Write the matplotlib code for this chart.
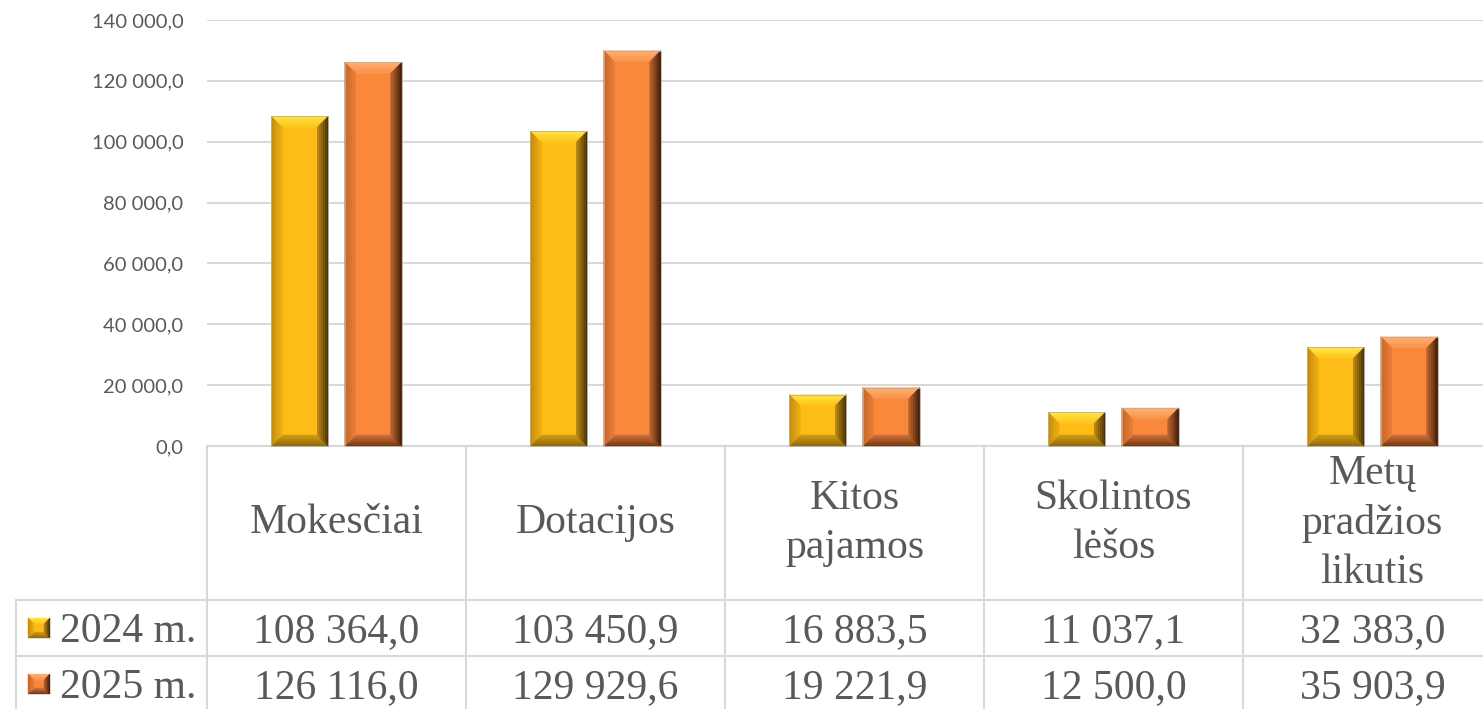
import numpy as np
import matplotlib
matplotlib.use('Agg')
from matplotlib import pyplot as plt
from matplotlib.patches import Polygon
from matplotlib.colors import to_rgb
from matplotlib.transforms import blended_transform_factory

categories = ['Mokesčiai', 'Dotacijos', 'Kitos\npajamos', 'Skolintos\nlėšos', 'Metų\npradžios\nlikutis']
series_names = ['2024 m.', '2025 m.']
values_2024 = [108364.0, 103450.9, 16883.5, 11037.1, 32383.0]
values_2025 = [126116.0, 129929.6, 19221.9, 12500.0, 35903.9]
y_ticks = [0, 20000, 40000, 60000, 80000, 100000, 120000, 140000]

# face colour, then (outer, inner) colour for top, bottom, left, right bevels
bar_colors = {
    '2024 m.': ['#fdbd16',
                [('#ffe84a', '#fdc419'), ('#8a6408', '#d49c12'),
                 ('#c08a10', '#eeae14'), ('#3e2a02', '#c08a10')]],
    '2025 m.': ['#f9883a',
                [('#ffb27a', '#fa9448'), ('#6e3410', '#d0703a'),
                 ('#c0642a', '#ec7e38'), ('#3a1806', '#b8642e')]],
}
grid_color = '#d9d9d9'
text_color = '#595959'

W, H = 1483, 709


def fmt(v):
    s = '{:,.1f}'.format(v)
    return s.replace(',', ' ').replace('.', ',')


def bevel(fig, x0, y0, x1, y1, colors, b, lw=0.6):
    # pixel box -> bevelled box drawn in figure coords
    b = min(b, (x1 - x0) / 2.5, (y1 - y0) / 2.5)
    fig.patches.append(Polygon(np.array([(x0, y0), (x0, y1), (x1, y1), (x1, y0)]) / [W, H],
                               closed=True, facecolor=colors[0], edgecolor='none',
                               transform=fig.transFigure, zorder=4))
    outer = np.array([(x0, y1), (x1, y1), (x1, y0), (x0, y0)], dtype=float)
    inner = np.array([(x0 + b, y1 - b), (x1 - b, y1 - b), (x1 - b, y0 + b), (x0 + b, y0 + b)])
    sides = [(0, 1), (3, 2), (3, 0), (1, 2)]  # top, bottom, left, right
    n = 6
    for (i, j), (c_out, c_in) in zip(sides, colors[1]):
        co, ci = np.array(to_rgb(c_out)), np.array(to_rgb(c_in))
        for k in range(n):
            t0, t1 = k / n, (k + 1) / n
            a0 = outer[[i, j]] + (inner[[i, j]] - outer[[i, j]]) * t0
            a1 = outer[[i, j]] + (inner[[i, j]] - outer[[i, j]]) * t1
            pts = np.array([a0[0], a0[1], a1[1], a1[0]])
            c = co + (ci - co) * (k + 0.5) / n
            fig.patches.append(Polygon(pts / [W, H], closed=True, facecolor=c, edgecolor=c,
                                       lw=0.3, transform=fig.transFigure, zorder=4))
    if lw:
        fig.patches.append(Polygon(outer / [W, H], closed=True, facecolor='none',
                                   edgecolor='#b8b0a0', lw=lw, transform=fig.transFigure, zorder=5))


fig = plt.figure(figsize=(W / 100, H / 100), dpi=100)
ax_left, ax_bottom = 207 / W, 1 - 446 / H
ax_w, ax_h = 5 * 259 / W, (446 - 20) / H
ax = fig.add_axes([ax_left, ax_bottom, ax_w, ax_h])

x = np.arange(len(categories))
width = 0.22
offset = 0.142
bars1 = ax.bar(x - offset, values_2024, width, color=bar_colors['2024 m.'][0], zorder=3)
bars2 = ax.bar(x + offset, values_2025, width, color=bar_colors['2025 m.'][0], zorder=3)

ax.set_xlim(-0.5, len(categories) - 0.5)
ax.set_ylim(0, 140000)
ax.set_yticks(y_ticks)
ax.set_yticklabels([fmt(v) for v in y_ticks], fontfamily='Lato', fontsize=14.5, color=text_color)
ax.tick_params(axis='y', length=0, pad=17)
ax.set_xticks([])
ax.grid(axis='y', color=grid_color, lw=1.5, zorder=0)
for s in ax.spines.values():
    s.set_visible(False)

for bars, name in [(bars1, '2024 m.'), (bars2, '2025 m.')]:
    for r in bars:
        (px0, py0), (px1, py1) = ax.transData.transform(
            [(r.get_x(), r.get_y()), (r.get_x() + r.get_width(), r.get_y() + r.get_height())])
        bevel(fig, px0, py0, px1, py1, bar_colors[name], 11)

# data table below the axis
tr = blended_transform_factory(ax.transData, ax.transAxes)
axh_px = ax_h * H


def ya(ypix):
    return -(ypix - 446) / axh_px


line_kw = dict(color=grid_color, lw=1.5, transform=tr, clip_on=False, zorder=1)
legend_left = -0.5 - (207 - 16) / 259
right = len(categories) + 0.5
ax.plot([-0.5, right], [0, 0], **line_kw)
for yy in [600, 656]:
    ax.plot([legend_left, right], [ya(yy), ya(yy)], **line_kw)
for i in range(len(categories)):
    ax.plot([i - 0.5, i - 0.5], [0, ya(712)], **line_kw)
ax.plot([legend_left, legend_left], [ya(600), ya(712)], **line_kw)

serif = dict(fontfamily='Liberation Serif', fontsize=30, color=text_color, transform=tr,
             clip_on=False, ha='center')
for i, cat in enumerate(categories):
    ax.text(i, ya(523), cat, va='center', linespacing=1.36, **serif)
    ax.text(i, ya(642), fmt(values_2024[i]), va='baseline', **serif)
    ax.text(i, ya(698), fmt(values_2025[i]), va='baseline', **serif)

# legend keys
for name, yc in zip(series_names, [628, 684]):
    bevel(fig, 28, H - (yc + 10), 50, H - (yc - 10), bar_colors[name], 6, lw=0)
    fig.text(60 / W, 1 - (yc + 14) / H, name, fontfamily='Liberation Serif', fontsize=30,
             color=text_color, ha='left', va='baseline')

fig.savefig('out.png', dpi=100)
plt.close()
